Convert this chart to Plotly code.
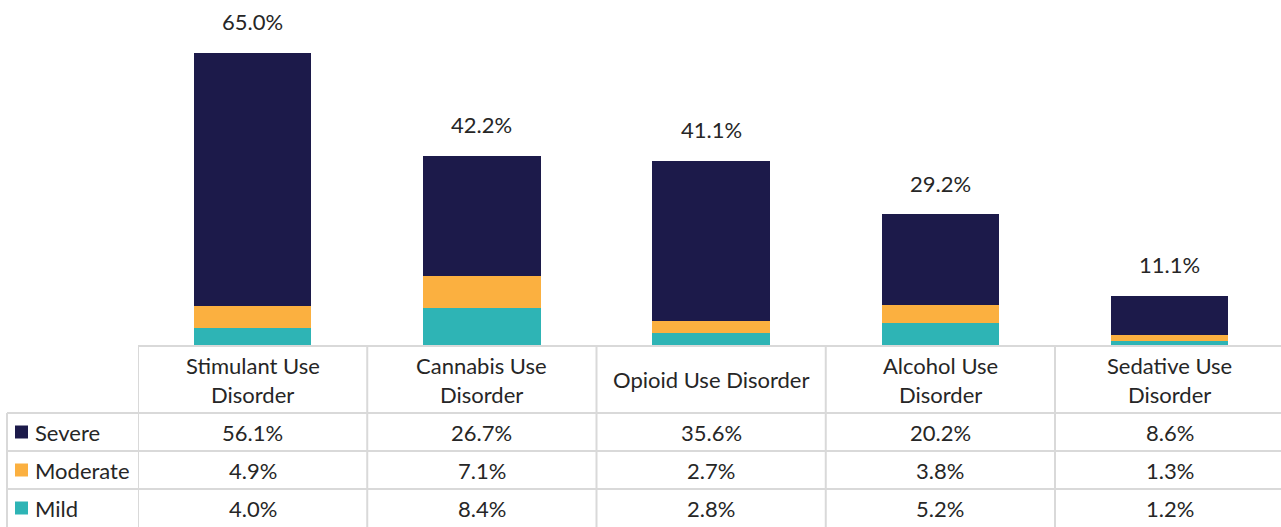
import plotly.graph_objects as go

# Prevalence of disorder severity by substance (percent)
categories = ["Stimulant Use\nDisorder", "Cannabis Use\nDisorder", "Opioid Use Disorder",
              "Alcohol Use\nDisorder", "Sedative Use\nDisorder"]
severe = [56.1, 26.7, 35.6, 20.2, 8.6]
moderate = [4.9, 7.1, 2.7, 3.8, 1.3]
mild = [4.0, 8.4, 2.8, 5.2, 1.2]
series_names = ["Severe", "Moderate", "Mild"]
series_colors = ["#1C1A4A", "#FBB040", "#2EB4B5"]

W, H = 1281, 527
FONT = "Lato"
FSIZE = 22
TEXT = "#262626"
GRID = "#D9D9D9"

# canvas pixel -> paper fraction helpers
def px(x):
    return x / W

def py(y):
    return 1 - y / H

base_y = 346                      # pixel row where bars sit / table begins
row_edges = [346, 413, 451, 489, 527]
label_left = 7
col_left, col_w = 138, 229.25     # table column geometry in pixels
n = len(categories)
xs = list(range(n))
totals = [round(a + b + c, 1) for a, b, c in zip(severe, moderate, mild)]

fig = go.Figure()
# stacked from bottom: mild, moderate, severe
for name, vals, col in [("Mild", mild, series_colors[2]),
                        ("Moderate", moderate, series_colors[1]),
                        ("Severe", severe, series_colors[0])]:
    fig.add_trace(go.Bar(x=xs, y=vals, name=name, marker_color=col,
                         marker_line_width=0, showlegend=False,
                         hoverinfo="skip"))

annotations = []
shapes = []

# totals above the bars
for i, t in enumerate(totals):
    annotations.append(dict(x=i, y=t, xref="x", yref="y", text=f"{t:.1f}%",
                            showarrow=False, yanchor="middle", yshift=31,
                            font=dict(family=FONT, size=FSIZE, color=TEXT)))

# data table grid
line = dict(color=GRID, width=2)
shapes.append(dict(type="line", xref="x", yref="paper", x0=-0.5, x1=n,
                   y0=py(row_edges[0]), y1=py(row_edges[0]), line=line))
for ry in row_edges[1:-1]:
    shapes.append(dict(type="line", xref="paper", yref="paper", x0=px(label_left), x1=1,
                       y0=py(ry), y1=py(ry), line=line))
for i in range(n):
    shapes.append(dict(type="line", xref="x", yref="paper", x0=i - 0.5, x1=i - 0.5,
                       y0=py(row_edges[0]), y1=0, line=line))
shapes.append(dict(type="line", xref="paper", yref="paper", x0=px(label_left), x1=px(label_left),
                   y0=py(row_edges[1]), y1=0, line=line))

# category header cells
head_mid = (row_edges[0] + row_edges[1]) / 2
line_gap = 29
for i, cat in enumerate(categories):
    parts = cat.split("\n")
    k = len(parts)
    for j, part in enumerate(parts):
        cy = head_mid + (j - (k - 1) / 2) * line_gap
        annotations.append(dict(x=i, y=py(cy), xref="x", yref="paper", text=part,
                                showarrow=False, yanchor="middle",
                                font=dict(family=FONT, size=FSIZE, color=TEXT)))

# value rows with legend keys
for r, (name, vals, col) in enumerate(zip(series_names, [severe, moderate, mild], series_colors)):
    cy = (row_edges[r + 1] + row_edges[r + 2]) / 2
    shapes.append(dict(type="rect", xref="paper", yref="paper",
                       x0=px(15), x1=px(28), y0=py(cy + 6.5), y1=py(cy - 6.5),
                       fillcolor=col, line=dict(width=0)))
    annotations.append(dict(x=px(33), y=py(cy), xref="paper", yref="paper", text=name,
                            showarrow=False, xanchor="left", yanchor="middle",
                            font=dict(family=FONT, size=FSIZE, color=TEXT)))
    for i, v in enumerate(vals):
        annotations.append(dict(x=i, y=py(cy), xref="x", yref="paper", text=f"{v:.1f}%",
                                showarrow=False, yanchor="middle",
                                font=dict(family=FONT, size=FSIZE, color=TEXT)))

px_per_unit = 293.3 / 65.0
x_span = (W - col_left) / col_w
fig.update_layout(
    width=W, height=H,
    margin=dict(l=0, r=0, t=0, b=0),
    paper_bgcolor="white", plot_bgcolor="white",
    barmode="stack", bargap=0.488,
    xaxis=dict(domain=[px(col_left), 1], range=[-0.5, -0.5 + x_span], visible=False,
               fixedrange=True),
    yaxis=dict(domain=[py(base_y), 1], range=[0, base_y / px_per_unit], visible=False,
               fixedrange=True),
    shapes=shapes, annotations=annotations,
    font=dict(family=FONT, size=FSIZE, color=TEXT),
)

fig.write_html("out.html", config={"displayModeBar": False})
